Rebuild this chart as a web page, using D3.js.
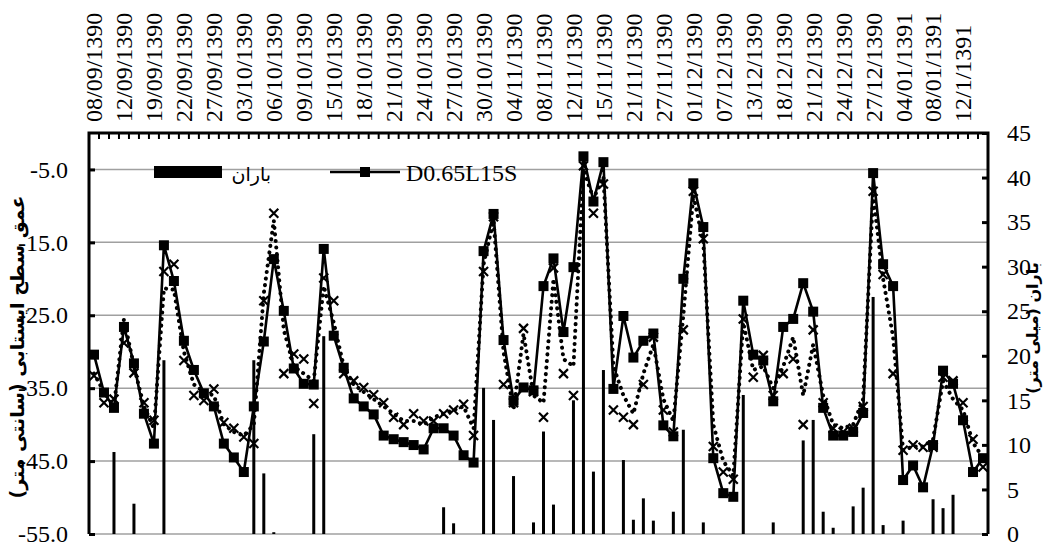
<!DOCTYPE html>
<html>
<head>
<meta charset="utf-8">
<script src="https://cdn.jsdelivr.net/npm/d3@7/dist/d3.min.js"></script>
<style>
  body { margin: 0; background: #fff; }
  svg { display: block; }
  .tick text { font-family: 'Liberation Serif', 'Times New Roman', serif; font-size: 24px; fill: #000; }
</style>
</head>
<body>
<script>
// x tick labels, one every third observation
const tickLabels = [
  '08/09/1390', '12/09/1390', '19/09/1390', '22/09/1390', '27/09/1390',
  '03/10/1390', '06/10/1390', '09/10/1390', '15/10/1390', '18/10/1390',
  '21/10/1390', '24/10/1390', '27/10/1390', '30/10/1390', '04/11/1390',
  '08/11/1390', '12/11/1390', '15/11/1390', '21/11/1390', '27/11/1390',
  '01/12/1390', '07/12/1390', '13/12/1390', '18/12/1390', '21/12/1390',
  '24/12/1390', '27/12/1390', '04/01/1391', '08/01/1391', '12/1/1391',
];

// rain (mm), right axis
const rain = [
  0, 0, 9.2, 0, 3.4, 0, 0, 19.5, 0, 0,
  0, 0, 0, 0, 0, 0, 19.5, 6.8, 0.2, 0,
  0, 0, 11.2, 22.2, 0, 0, 0, 0, 0, 0,
  0, 0, 0, 0, 0, 3.0, 1.2, 0, 0, 16.4,
  12.8, 0, 6.5, 0, 1.3, 11.5, 3.3, 0, 15.0, 41.0,
  7.0, 18.4, 0, 8.3, 1.6, 4.0, 1.5, 0, 2.5, 11.7,
  0, 1.3, 0, 0, 0, 15.6, 0, 0, 1.3, 0,
  0, 10.5, 12.8, 2.5, 0.7, 0, 3.1, 5.2, 26.6, 1.0,
  0, 1.5, 0, 0, 3.9, 2.9, 4.4, 0, 0, 0,
];

// water table depth (cm), left axis
const d065 = [
  -30.4, -35.6, -37.7, -26.6, -31.6, -38.5, -42.6, -15.4, -20.3, -28.5,
  -32.5, -35.7, -37.5, -42.6, -44.5, -46.5, -37.5, -28.6, -17.3, -24.4,
  -32.3, -34.4, -34.5, -15.9, -27.8, -32.2, -36.4, -37.5, -38.6, -41.5,
  -42.0, -42.4, -42.8, -43.4, -40.5, -40.5, -41.5, -44.2, -45.2, -16.2,
  -11.1, -28.4, -36.7, -34.9, -35.3, -21.0, -17.2, -27.3, -18.4, -3.2,
  -9.4, -4.0, -35.1, -25.1, -30.8, -28.5, -27.5, -40.1, -41.6, -20.0,
  -6.9, -12.9, -44.6, -49.4, -49.9, -23.0, -30.4, -31.2, -36.8, -26.6,
  -25.5, -20.6, -24.5, -37.7, -41.5, -41.5, -41.0, -38.4, -5.5, -18.0,
  -21.0, -47.6, -45.6, -48.6, -42.8, -32.6, -34.4, -39.4, -46.5, -44.6,
];

const crossSeries = [
  -33.3, -37.0, -36.5, -28.8, -32.9, -37.0, -39.4, -19.0, -18.0, -31.2,
  -36.0, -36.7, -35.1, -39.7, -40.5, -41.7, -42.6, -23.0, -11.0, -33.0,
  -30.3, -31.0, -37.1, -19.9, -23.0, -33.0, -34.0, -34.9, -35.9, -37.0,
  -39.0, -40.0, -38.5, -39.5, -39.5, -38.5, -38.0, -37.2, -41.5, -19.0,
  -11.5, -34.5, -37.0, -26.8, -35.5, -39.0, -18.5, -33.0, -36.0, -4.5,
  -11.0, -7.0, -38.0, -39.0, -40.0, -34.5, -28.0, -38.0, -41.0, -27.0,
  -8.0, -14.5, -43.0, -46.5, -47.5, -25.5, -33.5, -30.5, -36.0, -33.0,
  -31.0, -40.0, -27.0, -37.0, -40.5, -41.0, -40.5, -37.5, -8.0, -19.4,
  -33.0, -43.5, -42.8, -43.1, -43.1, -33.5, -34.0, -37.0, -42.0, -45.8,
];

const dotSeries = [
  -33.0, -35.5, -37.5, -25.5, -32.0, -37.5, -40.5, -21.3, -21.5, -30.0,
  -34.5, -35.5, -36.0, -40.0, -41.0, -41.5, -40.0, -22.0, -12.0, -27.0,
  -32.0, -33.0, -34.0, -21.0, -26.0, -32.0, -34.5, -35.5, -36.5, -37.5,
  -38.5, -39.5, -39.5, -40.0, -39.0, -38.5, -38.0, -37.5, -40.5, -18.0,
  -12.0, -30.0, -38.0, -27.5, -36.0, -37.0, -20.0, -31.0, -32.0, -5.0,
  -9.0, -6.0, -32.0, -36.0, -38.5, -33.0, -29.0, -36.5, -39.5, -25.0,
  -8.5, -15.0, -40.0, -45.0, -47.0, -26.0, -32.5, -32.0, -35.0, -32.0,
  -28.0, -36.0, -29.0, -36.0, -40.0, -40.5, -40.0, -36.5, -8.5, -20.0,
  -28.0, -43.5, -43.0, -43.0, -42.0, -34.0, -36.5, -38.0, -42.5, -44.5,
];

const leftTicks = [-55, -45, -35, -25, -15, -5];
const rightTicks = [0, 5, 10, 15, 20, 25, 30, 35, 40, 45];

const width = 1047;
const height = 548;
const margin = { top: 133, right: 59, bottom: 14, left: 89 };
const innerW = width - margin.left - margin.right;
const innerH = height - margin.top - margin.bottom;

const svg = d3.select('body').append('svg')
  .attr('width', width)
  .attr('height', height);

const g = svg.append('g')
  .attr('transform', `translate(${margin.left},${margin.top})`);

const x = d3.scaleBand()
  .domain(d3.range(d065.length))
  .range([0, innerW]);
const cx = i => x(i) + x.bandwidth() / 2;

const yL = d3.scaleLinear().domain([-55, 0]).range([innerH, 0]);
const yR = d3.scaleLinear().domain([0, 45]).range([innerH, 0]);

// gridlines
g.append('g')
  .selectAll('line')
  .data(leftTicks)
  .join('line')
  .attr('x1', 0)
  .attr('x2', innerW)
  .attr('y1', d => yL(d))
  .attr('y2', d => yL(d))
  .attr('stroke', '#a0a0a0')
  .attr('stroke-width', 1.5);

// rain bars
g.append('g')
  .selectAll('rect')
  .data(rain.map((v, i) => ({ v, i })).filter(d => d.v > 0))
  .join('rect')
  .attr('x', d => cx(d.i) - 1.5)
  .attr('width', 3)
  .attr('y', d => yR(d.v))
  .attr('height', d => innerH - yR(d.v))
  .attr('fill', '#000');

const lineL = d3.line()
  .x((d, i) => cx(i))
  .y(d => yL(d));

// dotted series
g.append('path')
  .attr('d', lineL(dotSeries))
  .attr('fill', 'none')
  .attr('stroke', '#000')
  .attr('stroke-width', 4)
  .attr('stroke-linecap', 'round')
  .attr('stroke-dasharray', '0.1,6.5');

// cross markers
const cs = 4.5;
g.append('g')
  .selectAll('path')
  .data(crossSeries)
  .join('path')
  .attr('d', (d, i) => {
    const px = cx(i), py = yL(d);
    return `M${px - cs},${py - cs}L${px + cs},${py + cs}M${px - cs},${py + cs}L${px + cs},${py - cs}`;
  })
  .attr('stroke', '#000')
  .attr('stroke-width', 2.2);

// main series with squares
g.append('path')
  .attr('d', lineL(d065))
  .attr('fill', 'none')
  .attr('stroke', '#000')
  .attr('stroke-width', 2.6);

g.append('g')
  .selectAll('rect')
  .data(d065)
  .join('rect')
  .attr('x', (d, i) => cx(i) - 5)
  .attr('y', d => yL(d) - 5)
  .attr('width', 10)
  .attr('height', 10)
  .attr('fill', '#000');

// left axis
const axisL = d3.axisLeft(yL)
  .tickValues(leftTicks)
  .tickFormat(d => d.toFixed(1))
  .tickSize(-6)
  .tickPadding(21);
const gL = g.append('g').call(axisL);
gL.select('.domain').remove();
gL.selectAll('.tick line').attr('stroke-width', 3);

// right axis
const axisR = d3.axisRight(yR)
  .tickValues(rightTicks)
  .tickSize(-6)
  .tickPadding(19);
const gR = g.append('g')
  .attr('transform', `translate(${innerW},0)`)
  .call(axisR);
gR.select('.domain').remove();
gR.selectAll('.tick line').attr('stroke-width', 3);

// top axis with rotated date labels
const axisT = d3.axisTop(x)
  .tickValues(d3.range(0, d065.length, 3))
  .tickFormat(i => tickLabels[i / 3])
  .tickSize(0);
const gT = g.append('g').call(axisT);
gT.select('.domain').remove();
gT.selectAll('.tick text')
  .attr('transform', 'rotate(-90)')
  .attr('x', 11)
  .attr('y', 0)
  .attr('dy', '0.35em')
  .attr('text-anchor', 'start');

// minor ticks at category edges along the top
g.append('g')
  .selectAll('line')
  .data(d3.range(d065.length + 1))
  .join('line')
  .attr('x1', i => i * x.step())
  .attr('x2', i => i * x.step())
  .attr('y1', 0)
  .attr('y2', 6)
  .attr('stroke', '#000')
  .attr('stroke-width', 2);

// frame: top, left and right axis lines
g.append('path')
  .attr('d', `M0,${innerH}V0H${innerW}V${innerH}`)
  .attr('fill', 'none')
  .attr('stroke', '#000')
  .attr('stroke-width', 3);

// legend
const lg = svg.append('g');
lg.append('rect')
  .attr('x', 154).attr('y', 166)
  .attr('width', 68).attr('height', 12)
  .attr('fill', '#000');
lg.append('text')
  .attr('x', 271).attr('y', 181)
  .attr('text-anchor', 'end')
  .attr('font-family', 'DejaVu Sans, sans-serif')
  .attr('font-size', 19)
  .text('باران');
lg.append('line')
  .attr('x1', 330).attr('x2', 400)
  .attr('y1', 172).attr('y2', 172)
  .attr('stroke', '#000')
  .attr('stroke-width', 2.6);
lg.append('rect')
  .attr('x', 360).attr('y', 167)
  .attr('width', 10).attr('height', 10)
  .attr('fill', '#000');
lg.append('text')
  .attr('x', 406).attr('y', 181)
  .attr('font-family', 'Liberation Serif, serif')
  .attr('font-size', 24)
  .text('D0.65L15S');

// axis titles
svg.append('text')
  .attr('transform', 'translate(24,347) rotate(-90)')
  .attr('text-anchor', 'middle')
  .attr('font-family', 'DejaVu Sans, sans-serif')
  .attr('font-weight', 'bold')
  .attr('font-size', 19)
  .text('عمق سطح ایستابی (سانتی متر)');

svg.append('text')
  .attr('transform', 'translate(1038,328) rotate(-90)')
  .attr('text-anchor', 'middle')
  .attr('font-family', 'DejaVu Sans, sans-serif')
  .attr('font-weight', 'bold')
  .attr('font-size', 16)
  .text('باران (میلی متر)');
</script>
</body>
</html>
